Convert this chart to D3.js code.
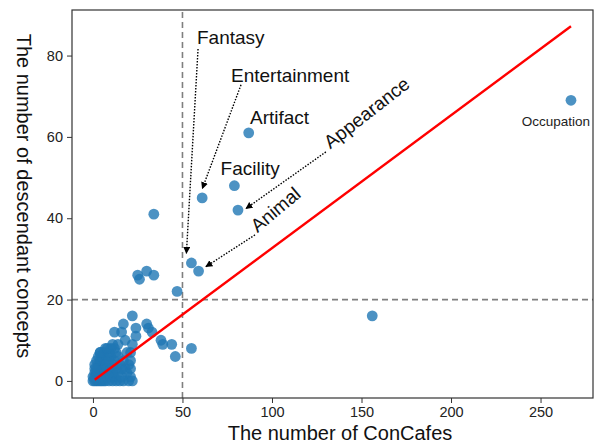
<!DOCTYPE html>
<html>
<head>
<meta charset="utf-8">
<script src="https://cdn.jsdelivr.net/npm/d3@7"></script>
<style>
  body { margin: 0; background: #fff; }
  text { font-family: "Liberation Sans", Arial, sans-serif; }
</style>
</head>
<body>
<div id="chart"></div>
<script>
// labelled concepts
const namedConcepts = ['Occupation', 'Artifact', 'Facility', 'Appearance', 'Entertainment', 'Fantasy', 'Animal'];
const namedCafes = [267, 87, 79, 81, 61, 55, 59];
const namedDesc = [69, 61, 48, 42, 45, 29, 27];

// the other concepts
const otherCafes = [
  34, 25, 26, 30, 34, 47, 156, 22, 17, 24, 30, 31, 12, 16, 24, 33, 38, 39, 44, 46, 55,
  18, 22, 7, 4, 21, 21, 21, 21, 17, 20, 22, 19, 18, 19, 20,
  1, 1, 1, 2, 2, 2, 2, 3, 3, 3, 3, 4, 4, 4, 4, 4, 5, 5, 5, 5, 5, 6, 6, 6, 6, 6,
  7, 7, 7, 8, 8, 8, 9, 9, 9, 9, 10, 10, 10, 11, 11, 11, 12, 12, 12, 13, 13, 14, 14,
  15, 15, 16, 16, 3, 2, 1, 4, 8, 10, 13, 14, 0, 0, 1, 17, 11
];
const otherDesc = [
  41, 26, 25, 27, 26, 22, 16, 16, 14, 13, 14, 13, 12, 12, 11, 12, 10, 9, 9, 6, 8,
  10, 9, 8, 7, 7, 5, 3, 1, 0, 0, 0, 2, 3, 7, 4,
  0, 1, 2, 0, 1, 2, 3, 0, 1, 2, 4, 0, 1, 2, 3, 5, 0, 1, 2, 4, 6, 0, 1, 3, 5, 7,
  0, 2, 4, 1, 3, 6, 0, 2, 5, 7, 1, 3, 6, 0, 2, 4, 1, 5, 8, 0, 3, 2, 6,
  0, 4, 1, 3, 6, 5, 4, 7, 8, 8, 7, 9, 0, 1, 3, 5, 9
];

const refLine = [[1, 0.3], [267, 87.2]];
const cafeThreshold = 50;
const descThreshold = 20;
const xTicks = [0, 50, 100, 150, 200, 250];
const yTicks = [0, 20, 40, 60, 80];

const width = 598, height = 444;
const margin = { top: 10, right: 5, bottom: 46, left: 72 };

const svg = d3.select('#chart').append('svg')
  .attr('width', width)
  .attr('height', height);

const x = d3.scaleLinear().domain([-11.7, 279.3]).range([margin.left, width - margin.right]);
const y = d3.scaleLinear().domain([-4.2, 91.2]).range([height - margin.bottom, margin.top]);

// threshold lines
svg.append('line')
  .attr('x1', x(cafeThreshold)).attr('x2', x(cafeThreshold))
  .attr('y1', y.range()[0]).attr('y2', y.range()[1])
  .attr('stroke', '#7f7f7f').attr('stroke-width', 1.6).attr('stroke-dasharray', '6,4');
svg.append('line')
  .attr('x1', x.range()[0]).attr('x2', x.range()[1])
  .attr('y1', y(descThreshold)).attr('y2', y(descThreshold))
  .attr('stroke', '#7f7f7f').attr('stroke-width', 1.6).attr('stroke-dasharray', '6,4');

// points
const pts = otherCafes.map((c, i) => ({ c: c, d: otherDesc[i] }))
  .concat(namedConcepts.map((n, i) => ({ c: namedCafes[i], d: namedDesc[i], name: n })));

svg.append('g')
  .selectAll('circle')
  .data(pts)
  .join('circle')
  .attr('cx', (d) => x(d.c))
  .attr('cy', (d) => y(d.d))
  .attr('r', 5.4)
  .attr('fill', '#1f77b4')
  .attr('fill-opacity', 0.8);

// red line
svg.append('path')
  .datum(refLine)
  .attr('fill', 'none')
  .attr('stroke', '#ff0000')
  .attr('stroke-width', 2.4)
  .attr('d', d3.line().x((d) => x(d[0])).y((d) => y(d[1])));

// axes
const xAxis = svg.append('g')
  .attr('transform', `translate(0,${y.range()[0]})`)
  .call(d3.axisBottom(x).tickValues(xTicks).tickSize(5).tickPadding(4).tickSizeOuter(0));
const yAxis = svg.append('g')
  .attr('transform', `translate(${x.range()[0]},0)`)
  .call(d3.axisLeft(y).tickValues(yTicks).tickSize(5).tickPadding(4).tickSizeOuter(0));
[xAxis, yAxis].forEach((a) => {
  a.select('.domain').remove();
  a.selectAll('line').attr('stroke', '#333');
  a.selectAll('text').attr('fill', '#222').style('font-size', '14.5px')
    .style('font-family', '"Liberation Sans", Arial, sans-serif');
});

// frame
svg.append('rect')
  .attr('x', x.range()[0]).attr('y', y.range()[1])
  .attr('width', x.range()[1] - x.range()[0])
  .attr('height', y.range()[0] - y.range()[1])
  .attr('fill', 'none').attr('stroke', '#333').attr('stroke-width', 1.2);

// axis titles
svg.append('text')
  .attr('x', 340).attr('y', 440)
  .attr('text-anchor', 'middle')
  .style('font-size', '20px').attr('fill', '#111')
  .text('The number of ConCafes');
svg.append('text')
  .attr('transform', 'translate(17,196) rotate(90)')
  .attr('text-anchor', 'middle')
  .style('font-size', '20px').attr('fill', '#111')
  .text('The number of descendant concepts');

// annotations: text spot, optional arrow (tail, head) and angle, in data units
const notes = {
  Fantasy: { tx: 58.1, ty: 82.8, tail: [58.7, 81.6], head: [52.2, 31.4] },
  Entertainment: { tx: 77.1, ty: 73.5, tail: [82.7, 72.8], head: [61.1, 47.3] },
  Artifact: { tx: 87.7, ty: 63.1 },
  Facility: { tx: 71.3, ty: 50.6 },
  Appearance: { tx: 132.6, ty: 56.9, rot: -38, tail: [130.1, 56.3], head: [85.5, 42.4] },
  Animal: { tx: 91.9, ty: 36.3, rot: -40, tail: [90.5, 35.9], head: [63.1, 28.1] },
};

svg.append('defs').append('marker')
  .attr('id', 'head')
  .attr('viewBox', '0 0 10 10')
  .attr('refX', 9).attr('refY', 5)
  .attr('markerWidth', 7).attr('markerHeight', 7)
  .attr('markerUnits', 'userSpaceOnUse')
  .attr('orient', 'auto')
  .append('path')
  .attr('d', 'M0,0L10,5L0,10Z')
  .attr('fill', '#000');

const ann = svg.append('g');
Object.entries(notes).forEach(([name, n]) => {
  if (n.tail) {
    ann.append('line')
      .attr('x1', x(n.tail[0])).attr('y1', y(n.tail[1]))
      .attr('x2', x(n.head[0])).attr('y2', y(n.head[1]))
      .attr('stroke', '#000').attr('stroke-width', 1.4)
      .attr('stroke-dasharray', '1.5,1.5')
      .attr('marker-end', 'url(#head)');
  }
  ann.append('text')
    .attr('transform', `translate(${x(n.tx)},${y(n.ty)}) rotate(${n.rot || 0})`)
    .style('font-size', '19px').attr('fill', '#111')
    .text(name);
});

// occupation label under its point, kept inside the frame
const oi = namedConcepts.indexOf('Occupation');
svg.append('text')
  .attr('x', x.range()[1] - 3).attr('y', y(namedDesc[oi]) + 26)
  .attr('text-anchor', 'end')
  .style('font-size', '13.5px').attr('fill', '#222')
  .text('Occupation');
</script>
</body>
</html>
